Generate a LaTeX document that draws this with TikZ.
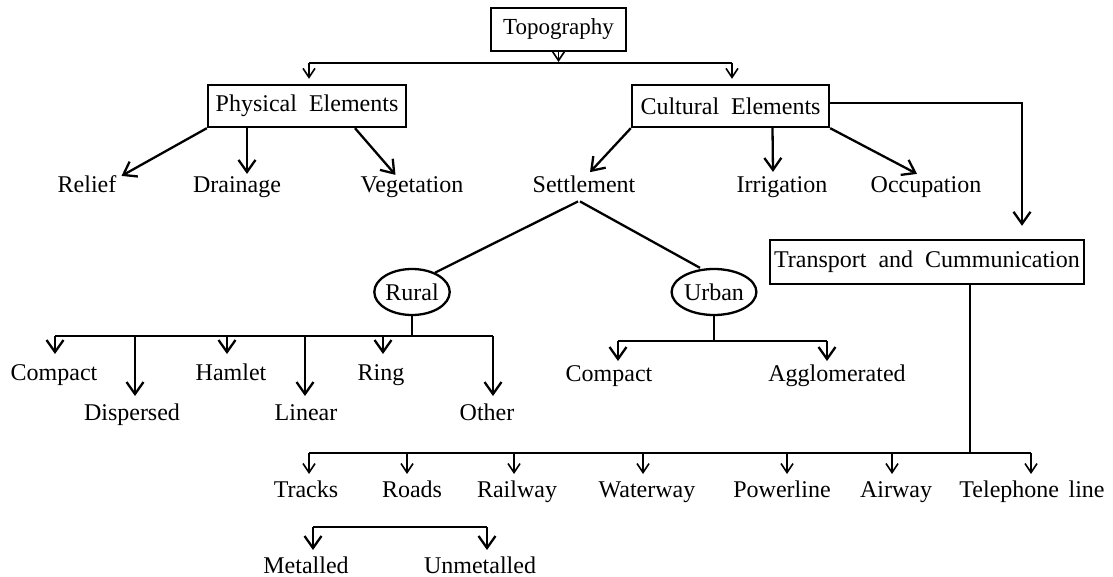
\documentclass[tikz,border=0pt]{standalone}
\usepackage{fontspec}
\setmainfont{Liberation Serif}
\usetikzlibrary{arrows.meta,shapes.geometric}
\begin{document}
\begin{tikzpicture}[x=1pt,y=-1pt,
  every node/.style={font=\fontsize{24}{28}\selectfont},
  box/.style={draw,line width=2.4pt,inner sep=0pt,minimum height=42pt},
  lbl/.style={anchor=base,inner sep=0pt},
  oval/.style={draw,ellipse,line width=2.3pt,inner sep=0pt,minimum height=46pt},
  bigarr/.style={line width=2.3pt,-{Straight Barb[length=12pt,width=17pt]}},
  smallarr/.style={line width=1.6pt,-{Straight Barb[length=9pt,width=12pt]}},
  link/.style={line width=2.3pt}]
\useasboundingbox (0,0) rectangle (1113,577);

% boxes
\node[box,minimum width=135pt,minimum height=43pt,font=\fontsize{23}{27}\selectfont] (topo) at (558.5,29.5) {Topography};
\node[box,minimum width=198pt] (phys) at (307,106) {Physical\hspace{0.5em}Elements};
\node[box,minimum width=197pt] (cult) at (730.5,106) {Cultural\hspace{0.5em}Elements};
\node[box,minimum width=314pt,minimum height=44pt] (trans) at (927,262) {Transport\hspace{0.5em}and\hspace{0.5em}Cummunication};
\node[oval,minimum width=70pt] (rural) at (412,292) {Rural};
\node[oval,minimum width=80pt] (urban) at (714,292) {Urban};

% labels
\node[lbl] (relief) at (87,193) {Relief};
\node[lbl] (drain) at (237,193) {Drainage};
\node[lbl] (veg) at (412,193) {Vegetation};
\node[lbl] (settle) at (584,193) {Settlement};
\node[lbl] (irr) at (782,193) {Irrigation};
\node[lbl] (occ) at (926,193) {Occupation};

\node[lbl] (rcomp) at (54,380) {Compact};
\node[lbl] (rdisp) at (132,420) {Dispersed};
\node[lbl] (rham) at (231,380) {Hamlet};
\node[lbl] (rlin) at (306,420) {Linear};
\node[lbl] (rring) at (381,380) {Ring};
\node[lbl] (roth) at (487,420) {Other};

\node[lbl] (ucomp) at (609,381) {Compact};
\node[lbl] (uagg) at (837,381) {Agglomerated};

\node[lbl] (ttrack) at (306,497) {Tracks};
\node[lbl] (troad) at (412,497) {Roads};
\node[lbl] (trail) at (517,497) {Railway};
\node[lbl] (twater) at (647,497) {Waterway};
\node[lbl] (tpower) at (782,497) {Powerline};
\node[lbl] (tair) at (896,497) {Airway};
\node[lbl] (ttel) at (1032,497) {Telephone\hspace{0.4em}line};

\node[lbl] (met) at (306,573) {Metalled};
\node[lbl] (unmet) at (480,573) {Unmetalled};

% coordinates
\coordinate (tj) at (558.5,62);
\coordinate (tl) at (309,63);
\coordinate (tr) at (732,63);
\coordinate (rl) at (55,336);
\coordinate (rr) at (493,336);
\coordinate (ul) at (618,341);
\coordinate (ur) at (827,341);
\coordinate (tbl) at (309,453);
\coordinate (tbr) at (1031,453);
\coordinate (ml) at (313,527);
\coordinate (mr) at (487,527);

% top level
\draw[smallarr] (topo.south) -- (tj);
\draw[link] (tl) -- (tr);
\draw[smallarr,shorten >=5pt] (tl) -- (tl |- phys.north);
\draw[smallarr,shorten >=5pt] (tr) -- (tr |- cult.north);

% physical
\draw[bigarr] (phys.south west) -- ([xshift=5pt]relief.north east);
\draw[bigarr] ([xshift=-60pt]phys.south) -- ([xshift=10pt,yshift=3pt]drain.north);
\draw[bigarr] ([xshift=48pt]phys.south) -- ([xshift=35pt,yshift=2pt]veg.north west);

% cultural
\draw[bigarr] (cult.south west) -- ([xshift=6pt,yshift=4pt]settle.north);
\draw[bigarr] ([xshift=42pt]cult.south) -- ([xshift=-9pt,yshift=5pt]irr.north);
\draw[bigarr] (cult.south east) -- ([xshift=-9pt,yshift=3pt]occ.north);
\draw[bigarr,shorten >=13pt] ([yshift=3pt]cult.east) -| ([xshift=95pt]trans.north);

% settlement
\draw[link] ([xshift=-6pt,yshift=-8pt]settle.south) -- (rural.40);
\draw[link] ([xshift=-4pt,yshift=-8pt]settle.south) -- ([xshift=-14pt]urban.north);

% rural
\draw[link] (rural.south) -- (rural.south |- rl);
\draw[link] (rl) -- (rr);
\draw[bigarr] (rl) -- ++(0,18);
\draw[bigarr] (135,336) -- ++(0,60);
\draw[bigarr] (227,336) -- ++(0,18);
\draw[bigarr] (305,336) -- ++(0,60);
\draw[bigarr] (383,336) -- ++(0,18);
\draw[bigarr] (rr) -- ++(0,60);

% urban
\draw[link] (urban.south) -- (urban.south |- ul);
\draw[link] (ul) -- (ur);
\draw[bigarr] (ul) -- ++(0,20);
\draw[bigarr] (ur) -- ++(0,20);

% transport
\draw[link] ([xshift=43pt]trans.south) -- ([xshift=43pt]trans.south |- tbl);
\draw[link] (tbl) -- (tbr);
\foreach \x in {309,407,514,643,787,892,1031}
  \draw[smallarr] (\x,453) -- ++(0,21);

% metalled
\draw[link] (ml) -- (mr);
\draw[bigarr] (ml) -- ++(0,23);
\draw[bigarr] (mr) -- ++(0,23);
\end{tikzpicture}
\end{document}
